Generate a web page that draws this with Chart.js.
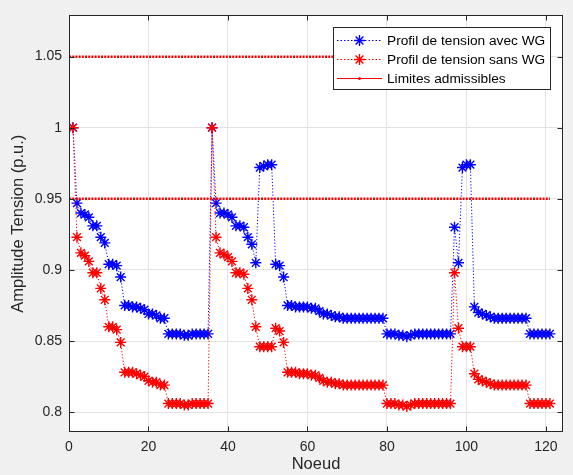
<!DOCTYPE html>
<html>
<head>
<meta charset="utf-8">
<script src="https://cdn.jsdelivr.net/npm/chart.js@4.4.1/dist/chart.umd.min.js"></script>
<style>
  html, body { margin: 0; padding: 0; background: #f0f0f0; }
  #wrap { width: 573px; height: 475px; position: relative; }
</style>
</head>
<body>
<div id="wrap"><canvas id="c" width="573" height="475"></canvas></div>
<script>
// ---------- DATA ----------
const nodes = Array.from({length: 121}, (_, i) => i + 1);

const avecWG = [
  1.000, 0.947, 0.940, 0.939, 0.937, 0.931, 0.931, 0.923, 0.919, 0.904,
  0.904, 0.903, 0.895, 0.875, 0.875, 0.874, 0.874, 0.873, 0.872, 0.869,
  0.869, 0.868, 0.866, 0.866, 0.855, 0.855, 0.855, 0.855, 0.854, 0.854,
  0.855, 0.855, 0.855, 0.855, 0.855, 1.000, 0.947, 0.940, 0.940, 0.939,
  0.937, 0.931, 0.931, 0.930, 0.923, 0.918, 0.905, 0.972, 0.973, 0.974,
  0.974, 0.904, 0.903, 0.895, 0.875, 0.875, 0.874, 0.874, 0.874, 0.874,
  0.873, 0.873, 0.871, 0.869, 0.869, 0.868, 0.867, 0.867, 0.866, 0.866,
  0.866, 0.866, 0.866, 0.866, 0.866, 0.866, 0.866, 0.866, 0.866, 0.855,
  0.855, 0.855, 0.854, 0.854, 0.853, 0.854, 0.855, 0.855, 0.855, 0.855,
  0.855, 0.855, 0.855, 0.855, 0.855, 0.855, 0.930, 0.905, 0.972, 0.974,
  0.974, 0.874, 0.870, 0.869, 0.868, 0.867, 0.866, 0.866, 0.866, 0.866,
  0.866, 0.866, 0.866, 0.866, 0.866, 0.855, 0.855, 0.855, 0.855, 0.855,
  0.855
];

const sansWG = [
  1.000, 0.923, 0.912, 0.910, 0.906, 0.898, 0.898, 0.887, 0.879, 0.860,
  0.860, 0.858, 0.849, 0.828, 0.828, 0.828, 0.827, 0.826, 0.825, 0.822,
  0.821, 0.821, 0.819, 0.819, 0.806, 0.806, 0.806, 0.806, 0.805, 0.805,
  0.806, 0.806, 0.806, 0.806, 0.806, 1.000, 0.923, 0.912, 0.911, 0.909,
  0.906, 0.898, 0.898, 0.897, 0.887, 0.879, 0.860, 0.846, 0.846, 0.846,
  0.846, 0.859, 0.857, 0.849, 0.828, 0.828, 0.828, 0.827, 0.827, 0.827,
  0.826, 0.826, 0.824, 0.822, 0.821, 0.821, 0.820, 0.820, 0.819, 0.819,
  0.819, 0.819, 0.819, 0.819, 0.819, 0.819, 0.819, 0.819, 0.819, 0.806,
  0.806, 0.806, 0.805, 0.805, 0.804, 0.805, 0.806, 0.806, 0.806, 0.806,
  0.806, 0.806, 0.806, 0.806, 0.806, 0.806, 0.898, 0.859, 0.846, 0.846,
  0.846, 0.827, 0.823, 0.822, 0.821, 0.820, 0.819, 0.819, 0.819, 0.819,
  0.819, 0.819, 0.819, 0.819, 0.819, 0.806, 0.806, 0.806, 0.806, 0.806,
  0.806
];

const limitX = [0, 121];
const limitLow = 0.95;
const limitHigh = 1.05;

const xTicks = [0, 20, 40, 60, 80, 100, 120];
const yTicks = [0.8, 0.85, 0.9, 0.95, 1, 1.05];
const yTickLabels = ['0.8', '0.85', '0.9', '0.95', '1', '1.05'];

const seriesLabels = ['Profil de tension avec WG', 'Profil de tension sans WG', 'Limites admissibles'];
const xTitle = 'Noeud';
const yTitle = 'Amplitude Tension (p.u.)';

// ---------- CHART ----------
const FONT = '"Liberation Sans", Arial, Helvetica, sans-serif';
const BLUE = '#0000ff';
const RED = '#ff0000';
const AXIS = '#262626';

const toXY = (xs, ys) => xs.map((x, i) => ({x, y: ys[i]}));

const bgPlugin = {
  id: 'bg',
  beforeDraw(chart) {
    const {ctx, chartArea: a} = chart;
    ctx.save();
    ctx.fillStyle = '#f0f0f0';
    ctx.fillRect(0, 0, chart.width, chart.height);
    ctx.fillStyle = '#ffffff';
    ctx.fillRect(a.left, a.top, a.right - a.left, a.bottom - a.top);
    ctx.restore();
  }
};

const boxPlugin = {
  id: 'box',
  afterDatasetsDraw(chart) {
    const {ctx, chartArea: a, scales} = chart;
    ctx.save();
    ctx.strokeStyle = AXIS;
    ctx.lineWidth = 1;
    const L = Math.round(a.left) + 0.5, R = Math.round(a.right) - 0.5;
    const T = Math.round(a.top) + 0.5, B = Math.round(a.bottom) - 0.5;
    ctx.strokeRect(L, T, R - L, B - T);
    ctx.beginPath();
    const tl = 5;
    xTicks.forEach(v => {
      const px = Math.round(scales.x.getPixelForValue(v)) + 0.5;
      ctx.moveTo(px, B); ctx.lineTo(px, B - tl);
      ctx.moveTo(px, T); ctx.lineTo(px, T + tl);
    });
    yTicks.forEach(v => {
      const py = Math.round(scales.y.getPixelForValue(v)) + 0.5;
      ctx.moveTo(L, py); ctx.lineTo(L + tl, py);
      ctx.moveTo(R, py); ctx.lineTo(R - tl, py);
    });
    ctx.stroke();
    ctx.restore();
  },
  afterDraw(chart) {
    // legend box
    const {ctx} = chart;
    const bx = 333, by = 27, bw = 218, bh = 63;
    ctx.save();
    ctx.fillStyle = '#ffffff';
    ctx.fillRect(bx, by, bw, bh);
    ctx.strokeStyle = AXIS;
    ctx.lineWidth = 1;
    ctx.strokeRect(bx + 0.5, by + 0.5, bw - 1, bh - 1);
    const rows = [by + 13, by + 32, by + 51];
    const ds = chart.data.datasets;
    const x0 = bx + 4, x1 = bx + 49, xm = (x0 + x1) / 2;
    ds.slice(0, 3).forEach((d, i) => {
      const y = rows[i];
      ctx.strokeStyle = d.borderColor;
      ctx.lineWidth = 1;
      if (i < 2) {
        ctx.setLineDash([1.5, 2]);
        ctx.lineWidth = 1.2;
      } else {
        ctx.setLineDash([]);
      }
      ctx.beginPath();
      ctx.moveTo(x0, y + 0.5); ctx.lineTo(x1, y + 0.5);
      ctx.stroke();
      ctx.setLineDash([]);
      if (i < 2) {
        ctx.lineWidth = 1.4;
        const r = 5.5;
        ctx.beginPath();
        for (let k = 0; k < 4; k++) {
          const ang = k * Math.PI / 4;
          ctx.moveTo(xm - r * Math.cos(ang), y + 0.5 - r * Math.sin(ang));
          ctx.lineTo(xm + r * Math.cos(ang), y + 0.5 + r * Math.sin(ang));
        }
        ctx.stroke();
      } else {
        ctx.fillStyle = d.borderColor;
        ctx.beginPath();
        ctx.arc(xm, y + 0.5, 1.5, 0, Math.PI * 2);
        ctx.fill();
      }
      ctx.fillStyle = '#000000';
      ctx.font = '13.7px ' + FONT;
      ctx.textBaseline = 'middle';
      ctx.textAlign = 'left';
      ctx.fillText(d.label, bx + 54, y + 1);
    });
    ctx.restore();
  }
};

const limitStyle = {
  borderColor: RED,
  backgroundColor: RED,
  borderWidth: 2.5,
  borderDash: [2, 1.2],
  pointRadius: 0,
  showLine: true,
  fill: false,
  order: 0
};

new Chart(document.getElementById('c'), {
  type: 'scatter',
  data: {
    datasets: [
      {
        label: seriesLabels[0],
        data: toXY(nodes, avecWG),
        showLine: true,
        borderColor: BLUE,
        backgroundColor: BLUE,
        borderWidth: 1,
        borderDash: [1.2, 2],
        pointStyle: 'star',
        pointRadius: 5.5,
        pointBorderWidth: 1.4,
        pointBorderColor: BLUE,
        fill: false,
        order: 2
      },
      {
        label: seriesLabels[1],
        data: toXY(nodes, sansWG),
        showLine: true,
        borderColor: RED,
        backgroundColor: RED,
        borderWidth: 1,
        borderDash: [1.2, 2],
        pointStyle: 'star',
        pointRadius: 5.5,
        pointBorderWidth: 1.4,
        pointBorderColor: RED,
        fill: false,
        order: 1
      },
      Object.assign({label: seriesLabels[2], data: toXY(limitX, [limitHigh, limitHigh])}, limitStyle),
      Object.assign({label: seriesLabels[2], data: toXY(limitX, [limitLow, limitLow])}, limitStyle)
    ]
  },
  options: {
    responsive: false,
    animation: false,
    devicePixelRatio: 1,
    layout: { padding: { left: 0, right: 10, top: 14, bottom: 0 } },
    plugins: { legend: { display: false }, tooltip: { enabled: false } },
    scales: {
      x: {
        type: 'linear',
        min: 0, max: 124.3,
        afterBuildTicks: s => { s.ticks = xTicks.map(v => ({value: v})); },
        afterFit: s => { s.height = 43; },
        grid: { color: '#e3e3e3', lineWidth: 1, drawTicks: false },
        border: { display: false },
        ticks: { padding: 7, color: AXIS, font: { family: FONT, size: 14 }, maxRotation: 0, callback: v => String(v) },
        title: { display: true, text: xTitle, color: AXIS, font: { family: FONT, size: 16.5 }, padding: { top: 0, bottom: 1 } }
      },
      y: {
        type: 'linear',
        min: 0.786, max: 1.079,
        afterBuildTicks: s => { s.ticks = yTicks.map(v => ({value: v})); },
        afterFit: s => { s.width = 69; },
        grid: { color: '#e3e3e3', lineWidth: 1, drawTicks: false },
        border: { display: false },
        ticks: { padding: 7, color: AXIS, font: { family: FONT, size: 14 }, callback: (v) => { const i = yTicks.indexOf(v); return i >= 0 ? yTickLabels[i] : ''; } },
        title: { display: true, text: yTitle, color: AXIS, font: { family: FONT, size: 16.5 }, padding: { top: 9, bottom: 0 } }
      }
    }
  },
  plugins: [bgPlugin, boxPlugin]
});
</script>
</body>
</html>
